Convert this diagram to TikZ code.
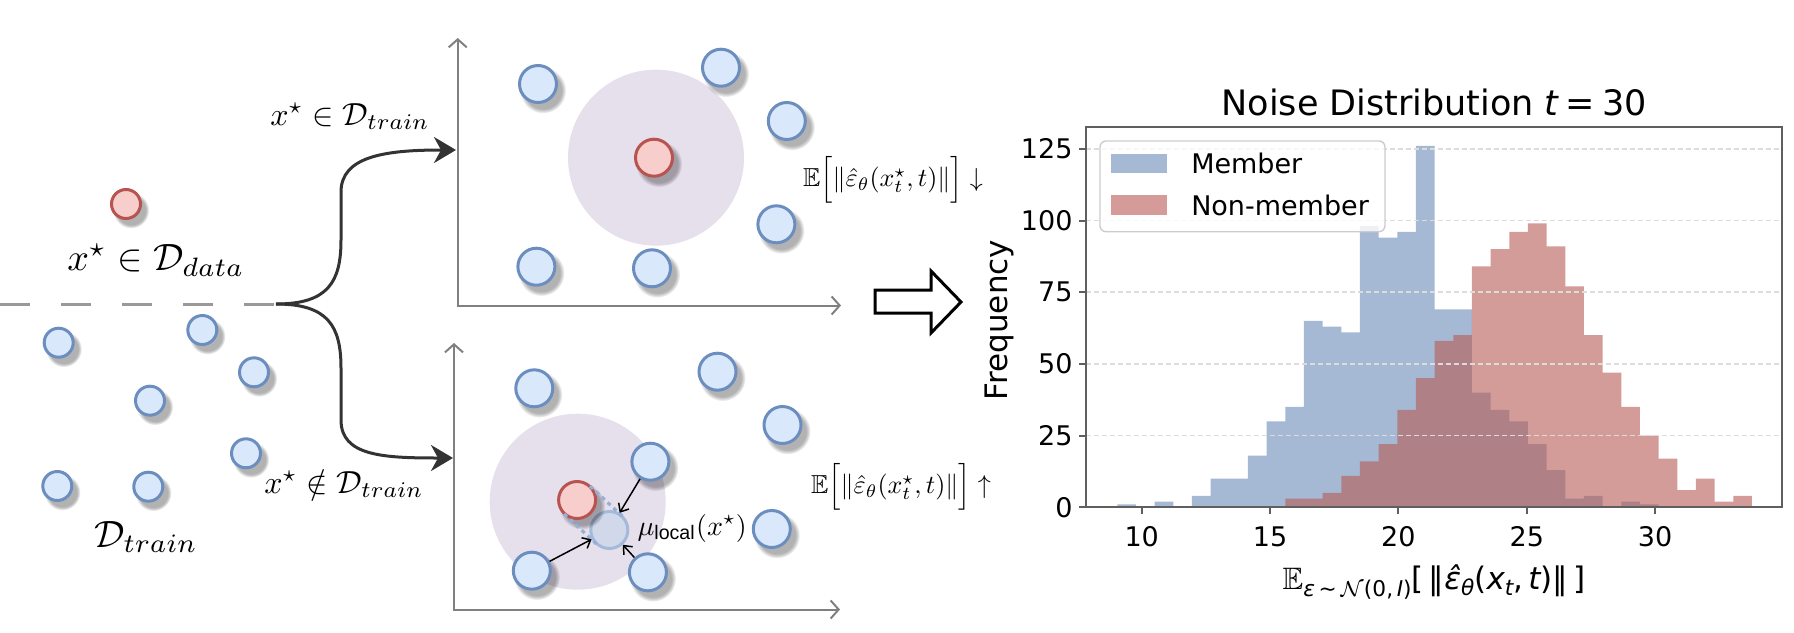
\documentclass[tikz,border=0pt]{standalone}
\usepackage{amsmath,amssymb}
\usepackage{fontspec}
\usetikzlibrary{arrows.meta,shadows,fadings,calc}
\newfontfamily\dvs{DejaVu Sans}
\newfontfamily\arialf{Liberation Sans}
\definecolor{bfill}{HTML}{DAE8FC}
\definecolor{bline}{HTML}{6C8EBF}
\definecolor{rfill}{HTML}{F8CECC}
\definecolor{rline}{HTML}{B85450}
\definecolor{purp}{RGB}{230,223,236}
\definecolor{memc}{RGB}{166,185,212}
\definecolor{nonc}{RGB}{183,90,85}
\definecolor{axgray}{RGB}{128,128,128}
\definecolor{curvec}{RGB}{51,51,51}
\definecolor{spinec}{RGB}{95,95,95}
\definecolor{gridc}{RGB}{220,220,220}
\definecolor{ghostf}{RGB}{208,216,233}
\definecolor{ghostd}{RGB}{165,186,218}
\definecolor{tanc}{RGB}{150,175,215}
\begin{document}
\begin{tikzpicture}[x=0.5pt,y=-0.5pt,
  softshadow/.style={general shadow={shadow xshift=2pt,shadow yshift=-2.5pt,shadow scale=1.25,fill=black,opacity=0.3,path fading=circle with fuzzy edge 20 percent}},
  smallb/.style={circle,draw=bline,fill=bfill,line width=1.5pt,inner sep=0pt,minimum size=14.5pt,softshadow},
  smallr/.style={smallb,draw=rline,fill=rfill},
  plotb/.style={smallb,minimum size=18.5pt},
  plotr/.style={plotb,draw=rline,fill=rfill},
  ghost/.style={circle,draw=ghostd,fill=ghostf,line width=1.5pt,inner sep=0pt,minimum size=18.5pt},
  zone/.style={circle,fill=purp,inner sep=0pt,minimum size=88pt},
  plotaxis/.style={draw=axgray,line width=1pt,line join=miter,{Straight Barb[length=4pt,width=9pt]}-{Straight Barb[length=4pt,width=9pt]}},
  bigcurve/.style={draw=curvec,line width=1.5pt,-{Stealth[length=11pt,width=13pt,inset=3.5pt,fill=curvec]}},
  pull/.style={draw=black,line width=0.75pt,-{Straight Barb[length=3.5pt,width=6pt]}},
  tangent/.style={draw=tanc,line width=1.6pt,dash pattern=on 2pt off 2pt},
  splitline/.style={draw=black!40,line width=1.5pt,dash pattern=on 15pt off 15.5pt},
  mlab/.style={inner sep=0pt},
  dlab/.style={font=\dvs,inner sep=0pt}
]
\useasboundingbox (0,0) rectangle (1794,632);

% ---------------- left part ----------------
\coordinate (lstart) at (0,304);
\coordinate (split) at (276,304);
\draw[splitline] (lstart) -- (split);

\node[smallr] (xs) at (126,204) {};
\node[mlab,scale=1.9,anchor=base] (lxdata) at (156,270.5) {$x^\star\in\mathcal{D}_{data}$};

\node[smallb] (t1) at (58.7,342.7) {};
\node[smallb] (t2) at (202.3,330) {};
\node[smallb] (t3) at (254,372.3) {};
\node[smallb] (t4) at (150,400.7) {};
\node[smallb] (t5) at (246,453.3) {};
\node[smallb] (t6) at (57.3,486) {};
\node[smallb] (t7) at (148.3,486.7) {};
\node[mlab,scale=1.9,anchor=base] (ldtrain) at (146,547) {$\mathcal{D}_{train}$};

\coordinate (ub1) at (341,240);
\coordinate (ub2) at (341,192);
\coordinate (uin) at (456,150);
\draw[bigcurve] (split) .. controls +(52,0) and +(0,42) .. (ub1) -- (ub2) .. controls +(0,-36) and +(-70,0) .. (uin);
\coordinate (lb1) at (341,368);
\coordinate (lb2) at (341,420);
\coordinate (lin) at (453,458);
\draw[bigcurve] (split) .. controls +(52,0) and +(0,-42) .. (lb1) -- (lb2) .. controls +(0,36) and +(-70,0) .. (lin);

\node[mlab,scale=1.6,anchor=base] (lin1) at (350,125) {$x^\star\in\mathcal{D}_{train}$};
\node[mlab,scale=1.6,anchor=base] (lout1) at (344,493) {$x^\star\notin\mathcal{D}_{train}$};

% ---------------- upper plot ----------------
\node[zone] (uzone) at (656,157.7) {};
\coordinate (uo) at (457.7,305.5);
\coordinate (uxe) at (841,305.5);
\coordinate (uye) at (457.7,38);
\draw[plotaxis] (uye) -- (uo) -- (uxe);

\node[plotb] (u1) at (538,84) {};
\node[plotb] (u2) at (721,67.7) {};
\node[plotb] (u3) at (786.8,121) {};
\node[plotr] (ured) at (654,157.7) {};
\node[plotb] (u4) at (776.4,224.3) {};
\node[plotb] (u5) at (536.4,266.7) {};
\node[plotb] (u6) at (652,268.3) {};
\node[mlab,scale=1.3] (edown) at (893,180) {$\mathbb{E}\Big[\|\hat{\varepsilon}_{\theta}(x^{\star}_{t},t)\|\Big]\downarrow$};

% ---------------- lower plot ----------------
\node[zone] (lzone) at (577.7,501.7) {};
\coordinate (lo) at (454,609.5);
\coordinate (lxe) at (840,609.5);
\coordinate (lye) at (454,343);
\draw[plotaxis] (lye) -- (lo) -- (lxe);

\node[plotb] (d1) at (534.3,388.3) {};
\node[plotb] (d2) at (717.5,371.7) {};
\node[plotb] (d3) at (782.5,425) {};
\node[plotb] (d4) at (650.4,461.7) {};
\coordinate (dredc) at (577.1,500);
\coordinate (muc) at (609.3,530);
\node[ghost] (mu) at (muc) {};
\node[plotr] (dred) at (dredc) {};
\draw[tangent] ($(dredc)!9.5pt!90:(muc)$) -- ($(muc)!9.5pt!-90:(dredc)$);
\draw[tangent] ($(dredc)!9.5pt!-90:(muc)$) -- ($(muc)!9.5pt!90:(dredc)$);
\node[plotb] (d5) at (771.8,529) {};
\node[plotb] (d6) at (531.8,570.7) {};
\node[plotb] (d7) at (647.9,572.3) {};
\draw[pull] (d4) -- (mu);
\draw[pull] (d6) -- (mu);
\draw[pull] (d7) -- (mu);
\node[mlab,scale=1.4,anchor=west] (mulab) at (637,528) {$\mu_{\text{\arialf local}}(x^{\star})$};
\node[mlab,scale=1.3] (eup) at (901,487) {$\mathbb{E}\Big[\|\hat{\varepsilon}_{\theta}(x^{\star}_{t},t)\|\Big]\uparrow$};

% ---------------- hollow arrow ----------------
\draw[line width=1.5pt,fill=white,line join=miter] (875,290) -- (931,290) -- (931,271) -- (961,302) -- (931,333) -- (931,313) -- (875,313) -- cycle;

% ---------------- histogram ----------------
\fill[memc] foreach \h [count=\i from 0] in {1,0,2,0,4,10,10,18,30,35,65,63,61,98,94,96,126,69,69,40,34,30,22,13,3,4,0,2,1}
  { ({1117.3+\i*18.667},507.3) rectangle ({1117.3+(\i+1)*18.667},{507.3-\h*2.868}) };
\fill[nonc,fill opacity=0.6] foreach \h [count=\i from 0] in {3,3,5,11,16,22,34,45,58,60,84,90,96,99,91,77,60,47,35,25,17,6,10,2,4}
  { ({1285.3+\i*18.667},507.3) rectangle ({1285.3+(\i+1)*18.667},{507.3-\h*2.868}) };
\foreach \v in {25,50,75,100,125}
  \draw[gridc,line width=0.75pt,dash pattern=on 2.5pt off 1.5pt] (1086,{507.3-\v*2.868}) -- (1781.7,{507.3-\v*2.868});

% legend
\draw[rounded corners=3pt,draw=black!20,fill=white,fill opacity=0.8,line width=0.7pt] (1100,141) rectangle (1385,231.7);
\fill[memc] (1111,154) rectangle (1166.7,173.3);
\fill[nonc,fill opacity=0.6] (1111,195) rectangle (1166.7,215);
\node[dlab,scale=1.35,anchor=west] (legm) at (1190.7,163.7) {Member};
\node[dlab,scale=1.35,anchor=west] (legn) at (1190.7,205) {Non-member};

% frame and ticks
\draw[spinec,line width=1pt] (1086,126.7) rectangle (1781.7,507.3);
\foreach \v in {0,25,50,75,100,125}{
  \draw[spinec,line width=1pt] (1079,{507.3-\v*2.868}) -- (1086,{507.3-\v*2.868});
  \node[dlab,scale=1.35,anchor=east] (yt\v) at (1073,{507.3-\v*2.868}) {\v};
}
\foreach \v in {10,15,20,25,30}{
  \draw[spinec,line width=1pt] ({1141.7+(\v-10)*25.67},507.3) -- ({1141.7+(\v-10)*25.67},514);
  \node[dlab,scale=1.35,anchor=north] (xt\v) at ({1141.7+(\v-10)*25.67},526) {\v};
}
\node[dlab,scale=1.75] (title) at (1434,102) {Noise Distribution {\itshape t}\hspace{0.2em}=\hspace{0.2em}30};
\node[dlab,scale=1.55,rotate=90] (ylab) at (999,320) {Frequency};
\node[dlab,scale=1.55] (xlab) at (1434,582) {$\mathbb{E}$\raisebox{-0.45ex}{\scriptsize\itshape ε\upshape\,∼\,$\mathcal{N}$(0,\,\itshape I\upshape)}[\,‖\itshape ε̂\upshape\raisebox{-0.4ex}{\scriptsize\itshape θ}(\itshape x\upshape\raisebox{-0.4ex}{\scriptsize\itshape t},\,\itshape t\upshape)‖\,]};
\end{tikzpicture}
\end{document}
